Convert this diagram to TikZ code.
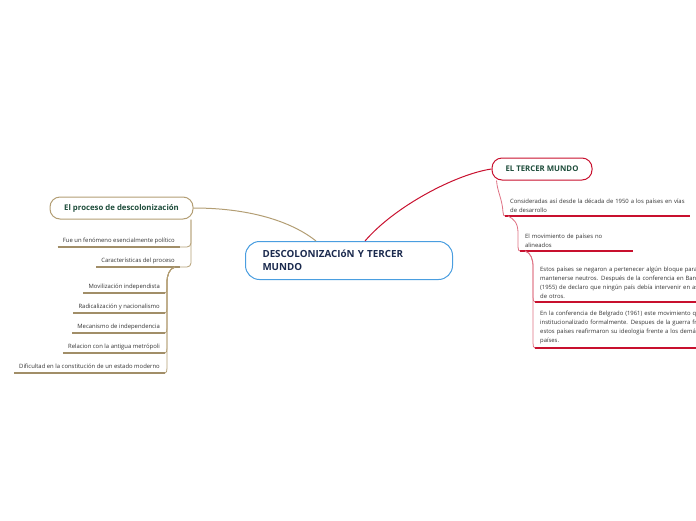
\documentclass[tikz,border=0pt]{standalone}
\usepackage{fontspec}
\setmainfont{Open Sans}
\usetikzlibrary{positioning,calc}
\definecolor{tanline}{HTML}{B39E74}
\definecolor{crim}{HTML}{C8102E}
\definecolor{skyline}{HTML}{4A9EE0}
\definecolor{navy}{HTML}{1B2A4E}
\definecolor{pine}{HTML}{1E4D3B}

\begin{document}
\begin{tikzpicture}[x=1pt, y=-1pt,
    central/.style={draw=skyline, line width=1pt, rounded corners=14pt, fill=white, minimum width=207pt, minimum height=38pt, text width=173pt, align=left, text=navy, font=\fontsize{9.8}{13}\selectfont\bfseries},
    topic/.style={draw=#1, line width=1pt, rounded corners=10pt, fill=white, minimum height=22pt, text=pine, font=\fontsize{7.8}{9}\selectfont\bfseries},
    sub/.style={font=\fontsize{5.9}{9}\selectfont, text=black!80, inner xsep=5pt, inner ysep=3.5pt, text depth=1.3pt},
    subm/.style={font=\fontsize{5.9}{9}\selectfont, text=black!80, inner xsep=5pt, inner ysep=3.5pt, align=left},
    tanlink/.style={draw=tanline, line width=0.8pt},
    redlink/.style={draw=crim!60, line width=0.8pt},
    tanunder/.style={draw=tanline!90!black, line width=1.3pt},
    redunder/.style={draw=crim, line width=1.3pt}
]
    \useasboundingbox (0,0) rectangle (696,520);

    % Central topic
    \node[central, anchor=north west] (core) at (245,241) {DESCOLONIZACIóN Y TERCER\\MUNDO};

    % Main topics
    \node[topic=tanline, minimum width=143pt] (proc) at (121.5,208) {El proceso de descolonización};
    \node[topic=crim, minimum width=100pt] (tercer) at (542,169) {EL TERCER MUNDO};

    \draw[tanlink, line width=1pt] ($(core.north west)+(71,0)$) .. controls +(-25,-20) and +(55,0) .. (proc.east);
    \draw[draw=crim, line width=1pt] ($(core.north west)+(120,0)$) .. controls +(30,-35) and +(-35,5) .. (tercer.west);

    % Left branch
    \node[sub, anchor=south east] (fue) at (180,247) {Fue un fenómeno esencialmente político};
    \node[sub, anchor=south east] (carac) at (180,267) {Características del proceso};

    \node[sub, anchor=south east] (movi) at (165,293) {Movilización independista};
    \node[sub, anchor=south east] (radi) at (165,313) {Radicalización y nacionalismo};
    \node[sub, anchor=south east] (meca) at (165,333) {Mecanismo de independencia};
    \node[sub, anchor=south east] (rela) at (165,353) {Relacion con la antigua metrópoli};
    \node[sub, anchor=south east] (difi) at (165,373) {Dificultad en la constitución de un estado moderno};

    \foreach \n in {fue,carac,movi,radi,meca,rela,difi}
        \draw[tanunder] (\n.south west) -- (\n.south east);

    \draw[tanlink, rounded corners=4pt] ($(proc.south east)+(-2.5,0)$) |- (fue.south east);
    \draw[tanlink, rounded corners=4pt] ($(proc.south east)+(-2.5,0)$) |- (carac.south east);

    \foreach \n in {movi,radi,meca,rela,difi}
        \draw[tanlink] ($(carac.south east)+(-5,0)$) .. controls +(-6,2) and +(0,-8) .. ($(carac.south east)+(-13,16)$)
            -- ($(\n.south east)+(2,-5)$) .. controls +(0,3) and +(1.5,0) .. (\n.south east);

    % Right branch
    \node[subm, anchor=south west, text width=175pt] (consi) at (505,216) {Consideradas así desde la década de 1950 a los países en vías\\de desarrollo};
    \node[subm, anchor=south west, text width=103pt] (noali) at (520,251) {El movimiento de países no\\alineados};

    \node[subm, anchor=south west, text width=220pt] (estos) at (535,302) {Estos países se negaron a pertenecer algún bloque para\\mantenerse neutros. Después de la conferencia en Bandung\\(1955) de declaro que ningún país debía intervenir en asuntos\\de otros.};
    \node[subm, anchor=south west, text width=220pt] (belg) at (535,348) {En la conferencia de Belgrado (1961) este movimiento que\\institucionalizado formalmente. Despues de la guerra fría\\estos países reafirmaron su ideologia frente a los demás\\países.};

    \foreach \n in {consi,noali,estos,belg}
        \draw[redunder] (\n.south west) -- (\n.south east);

    \draw[redlink] ($(tercer.south west)+(5,0)$) .. controls +(1,12) and +(-1,-14) .. ($(consi.south west)+(-2,-4)$)
        .. controls +(0,3) and +(-1,0) .. (consi.south west);
    \draw[redlink] ($(consi.south west)+(3,0)$) .. controls +(6,3) and +(0,-10) .. ($(noali.south west)+(-2,-18)$)
        -- ($(noali.south west)+(-2,-4)$) .. controls +(0,3) and +(-1,0) .. (noali.south west);

    \foreach \n in {estos,belg}
        \draw[redlink] ($(noali.south west)+(5,0)$) .. controls +(6,2) and +(0,-8) .. ($(noali.south west)+(13,16)$)
            -- ($(\n.south west)+(-2,-5)$) .. controls +(0,3) and +(-1.5,0) .. (\n.south west);
\end{tikzpicture}
\end{document}
